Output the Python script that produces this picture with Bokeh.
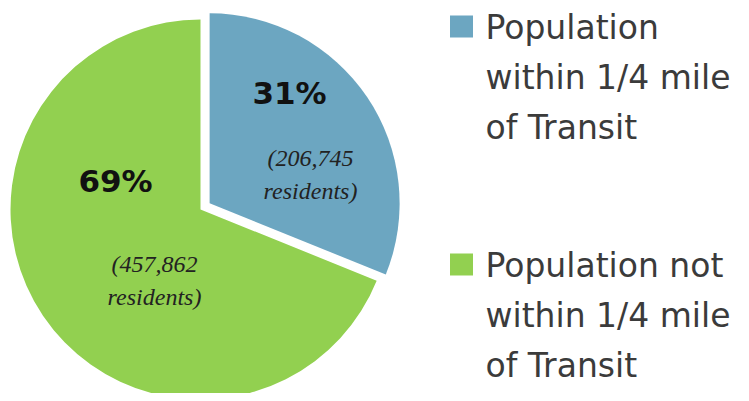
import math
from bokeh.plotting import figure
from bokeh.models import Range1d, ColumnDataSource
from bokeh.core.properties import value
from bokeh.embed import file_html
from bokeh.resources import INLINE

# ---- data ----
categories = ["Population within 1/4 mile of Transit",
              "Population not within 1/4 mile of Transit"]
legend_lines = [["Population", "within 1/4 mile", "of Transit"],
                ["Population not", "within 1/4 mile", "of Transit"]]
residents = [206745, 457862]
pct_labels = ["31%", "69%"]
count_labels = [["(206,745", "residents)"], ["(457,862", "residents)"]]
colors = ["#6CA6C1", "#92D050"]

# ---- layout (picture pixel space, y measured up from bottom of picture) ----
W, H = 741, 393
WIN_H = 401
p = figure(width=W, height=H, output_backend="svg", toolbar_location=None,
           x_range=Range1d(0, W), y_range=Range1d(WIN_H - H, WIN_H),
           min_border=0)
p.axis.visible = False
p.grid.visible = False
p.outline_line_color = None
p.background_fill_color = "white"
p.border_fill_color = "white"

total = sum(residents)
cx, cy = 200, WIN_H - 209
R = 190
explode = 11

# slices clockwise from 12 o'clock
start = 90.0
angles = []
for v in residents:
    sweep = v / total * 360.0
    end = start - sweep
    angles.append((end, start))
    start = end

xs, ys, sa, ea = [], [], [], []
for i, (a0, a1) in enumerate(angles):
    mid = math.radians((a0 + a1) / 2)
    off = explode if i == 0 else 0
    xs.append(cx + off * math.cos(mid))
    ys.append(cy + off * math.sin(mid))
    sa.append(math.radians(a0))
    ea.append(math.radians(a1))

src = ColumnDataSource(dict(x=xs, y=ys, sa=sa, ea=ea, color=colors))
p.wedge(x="x", y="y", radius=R, start_angle="sa", end_angle="ea",
        direction="anticlock", fill_color="color", line_color=None, source=src)

# percent labels
pct_pos = [(289, WIN_H - 92), (115, WIN_H - 180)]
p.text(x=[q[0] for q in pct_pos], y=[q[1] for q in pct_pos], text=pct_labels,
       text_font=value("DejaVu Sans"), text_font_style="bold",
       text_font_size="31px", text_align="center", text_baseline="middle",
       text_color="#111111")

# resident count labels (positions = middle of first line)
cnt_pos = [(310, WIN_H - 157), (154, WIN_H - 263)]
cx_l, cy_l, ct = [], [], []
for (x0, y0), lines in zip(cnt_pos, count_labels):
    for j, t in enumerate(lines):
        cx_l.append(x0)
        cy_l.append(y0 - j * 33)
        ct.append(t)
p.text(x=cx_l, y=cy_l, text=ct, text_font=value("Liberation Serif"),
       text_font_style="italic", text_font_size="24px", text_align="center",
       text_baseline="middle", text_color="#222222")

# legend (positions = middle of first line)
leg_mid = [WIN_H - 27, WIN_H - 265]
for i, (yc, lines) in enumerate(zip(leg_mid, legend_lines)):
    p.rect(x=[461], y=[yc + 1], width=23, height=22, fill_color=colors[i],
           line_color=None)
    lx, ly = [], []
    for j, t in enumerate(lines):
        lx.append(485)
        ly.append(yc - j * 50)
    p.text(x=lx, y=ly, text=lines, text_font=value("DejaVu Sans"),
           text_font_size="33px", text_align="left",
           text_baseline="middle", text_color="#3b3b3b")

open("out.html", "w").write(file_html(p, INLINE))
